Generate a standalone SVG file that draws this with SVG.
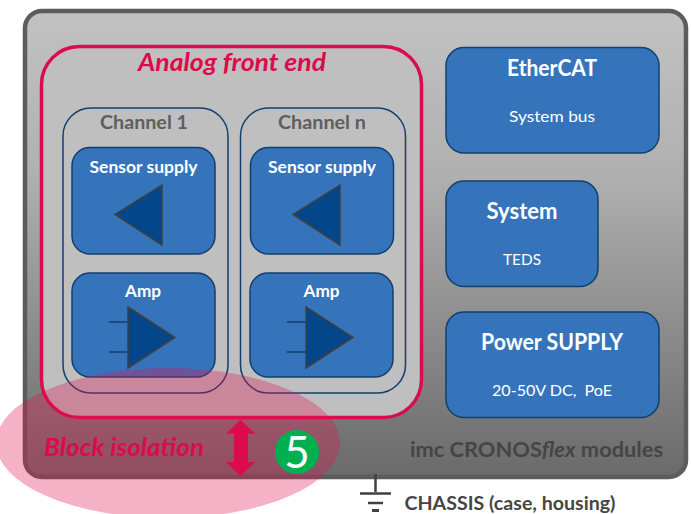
<svg xmlns="http://www.w3.org/2000/svg" width="691" height="514" viewBox="0 0 691 514">
<style>
text{font-family:Lato,"Open Sans","Liberation Sans",sans-serif;text-anchor:middle}
.b{fill:#3574bb;stroke:#123f6e;stroke-width:1.5}
.ch{fill:none;stroke:#143f6f;stroke-width:1.5}
.tri{fill:#03468a;stroke:#404040;stroke-width:1.5}
.w{fill:#fff;font-weight:700}
.s{fill:#fff;font-size:16px;white-space:pre}
.cl{fill:#5e5e5e;font-weight:700;font-size:18px}
.pin{stroke:#14406f;stroke-width:1.5;fill:none}
.gnd{stroke:#404040;fill:none}
</style>
<defs><linearGradient id="g" x1="0" y1="0" x2="0" y2="1"><stop offset="0" stop-color="#c2c2c2"/><stop offset="0.35" stop-color="#b0b0b0"/><stop offset="1" stop-color="#6a6a6a"/></linearGradient></defs>
<g id="chassis"><rect x="25" y="11" width="661" height="466" rx="17" fill="url(#g)" stroke="#5c5c5c" stroke-width="4.500"/></g>
<g id="analog-front-end"><rect x="41.500" y="46.500" width="380" height="371" rx="38" fill="#bfbfbf" stroke="#dc0b4c" stroke-width="3.500"/>
<text x="232" y="71" font-size="24" font-weight="700" font-style="italic" fill="#dc0b4c" textLength="188" lengthAdjust="spacingAndGlyphs">Analog front end</text></g>
<g id="channel-1"><rect class="ch" x="63" y="108" width="165" height="285" rx="28"/><text class="cl" x="144" y="128.500" textLength="88" lengthAdjust="spacingAndGlyphs">Channel 1</text></g>
<g id="channel-n"><rect class="ch" x="240.500" y="108" width="165" height="285" rx="28"/><text class="cl" x="322" y="128.500" textLength="88" lengthAdjust="spacingAndGlyphs">Channel n</text></g>
<g id="sensor-1"><rect class="b" x="72" y="147.500" width="143" height="106.500" rx="18"/><text class="w" x="143.500" y="173" font-size="17" textLength="108" lengthAdjust="spacingAndGlyphs">Sensor supply</text><polygon class="tri" points="162,185 162,245 115,214.500"/></g>
<g id="sensor-n"><rect class="b" x="250.500" y="147.500" width="143" height="106.500" rx="18"/><text class="w" x="322" y="173" font-size="17" textLength="108" lengthAdjust="spacingAndGlyphs">Sensor supply</text><polygon class="tri" points="340,185 340,245 293,214.500"/></g>
<g id="amp-1"><rect class="b" x="72" y="273" width="143" height="104" rx="18"/><text class="w" x="143" y="297" font-size="17" textLength="36" lengthAdjust="spacingAndGlyphs">Amp</text><path class="pin" d="M109 322H128M109 352H128"/><polygon class="tri" points="128,307 128,368 175,337.500"/></g>
<g id="amp-n"><rect class="b" x="250" y="273" width="143" height="104" rx="18"/><text class="w" x="321.500" y="297" font-size="17" textLength="36" lengthAdjust="spacingAndGlyphs">Amp</text><path class="pin" d="M287 322H306M287 352H306"/><polygon class="tri" points="306,307 306,368 353,337.500"/></g>
<g id="ethercat"><rect class="b" x="446" y="47.500" width="213" height="105.500" rx="18"/><text class="w" x="552" y="76" font-size="22" textLength="90" lengthAdjust="spacingAndGlyphs">EtherCAT</text><text class="s" x="552" y="122" textLength="86" lengthAdjust="spacingAndGlyphs">System bus</text></g>
<g id="system"><rect class="b" x="446" y="181" width="152" height="105.500" rx="18"/><text class="w" x="522" y="219" font-size="22" textLength="71" lengthAdjust="spacingAndGlyphs">System</text><text class="s" x="522" y="265" textLength="38" lengthAdjust="spacingAndGlyphs">TEDS</text></g>
<g id="power-supply"><rect class="b" x="446" y="312" width="213" height="105.500" rx="18"/><text class="w" x="552" y="350" font-size="22" textLength="142" lengthAdjust="spacingAndGlyphs">Power SUPPLY</text><text class="s" x="552" y="396" textLength="120" lengthAdjust="spacingAndGlyphs">20-50V DC,  PoE</text></g>
<g id="modules-label"><text x="536.500" y="457" font-size="21" font-weight="700" fill="#454545" textLength="253" lengthAdjust="spacingAndGlyphs">imc CRONOS<tspan font-style="italic">flex</tspan> modules</text></g>
<g id="ground"><path class="gnd" stroke-width="2.500" d="M375.500 474V492M360 493.500H391M368 503H383"/><path class="gnd" stroke-width="3" d="M372 510.500H379"/><text x="510" y="510" font-size="18" font-weight="700" fill="#454545" textLength="211" lengthAdjust="spacingAndGlyphs">CHASSIS (case, housing)</text></g>
<g id="isolation"><ellipse cx="168" cy="443" rx="172" ry="75" fill="#e0124f" fill-opacity="0.33"/>
<text x="124" y="456" font-size="24" font-weight="700" font-style="italic" fill="#dc0b4c" textLength="160" lengthAdjust="spacingAndGlyphs">Block isolation</text>
<polygon points="240.500,420 255,433.500 248,433.500 248,462 255,462 240.500,476 226,462 234,462 234,433.500 226,433.500" fill="#dc0b4c"/>
<circle cx="297" cy="452" r="22" fill="#00b050"/><text x="297" y="468" font-size="44" fill="#fff">5</text></g>
</svg>
